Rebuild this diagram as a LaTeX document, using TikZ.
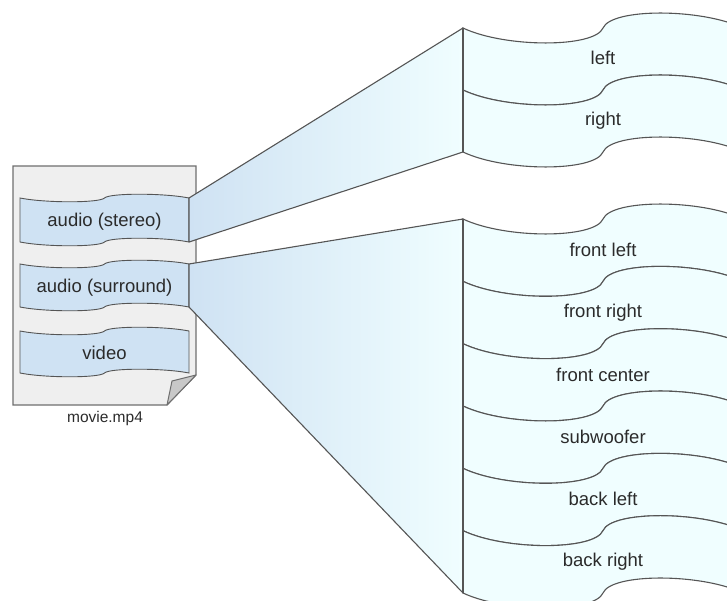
\documentclass[tikz,border=0pt]{standalone}
\usepackage{fontspec}
\setmainfont{Liberation Sans}
\definecolor{edge}{HTML}{555555}
\definecolor{paper}{HTML}{EFEFEF}
\definecolor{fold}{HTML}{C8C8C8}
\definecolor{trackblue}{HTML}{CFE2F3}
\definecolor{channel}{HTML}{F0FEFF}
\definecolor{ink}{HTML}{2B2B2B}
% punched-tape band: style, left x, top y, width, height, wave amplitude
\newcommand\tapeband[6]{%
  \path[#1] (#2,#3)
    .. controls ({#2+0.15*#4},{#3+1.33*#6}) and ({#2+0.47*#4},{#3+1.33*#6}) .. ({#2+0.5*#4},#3)
    .. controls ({#2+0.53*#4},{#3-1.33*#6}) and ({#2+0.85*#4},{#3-1.33*#6}) .. ({#2+#4},#3)
    -- ({#2+#4},{#3+#5})
    .. controls ({#2+0.85*#4},{#3+#5-1.33*#6}) and ({#2+0.53*#4},{#3+#5-1.33*#6}) .. ({#2+0.5*#4},{#3+#5})
    .. controls ({#2+0.47*#4},{#3+#5+1.33*#6}) and ({#2+0.15*#4},{#3+#5+1.33*#6}) .. (#2,{#3+#5})
    -- cycle;}
\begin{document}
\begin{tikzpicture}[x=1pt,y=-1pt,
  track/.style={fill=trackblue,draw=edge,line width=0.9pt},
  chan/.style={fill=channel,draw=edge,line width=1.1pt},
  beam/.style={left color=trackblue,right color=channel,draw=edge,line width=1.1pt,line join=round},
  lbl/.style={text=ink,font=\fontsize{18.5}{20}\selectfont,inner sep=0pt},
  filelbl/.style={text=ink,font=\fontsize{15.5}{17}\selectfont,inner sep=0pt}]
\useasboundingbox (0,0) rectangle (727,601);
\clip (0,0) rectangle (727,601);

% the container file with a dog-eared corner
\path[fill=paper,draw=edge!85,line width=1.2pt]
  (13,166) -- (196,166) -- (196,375) -- (167,405) -- (13,405) -- cycle;
\path[fill=fold,draw=edge!85,line width=1pt,line join=round]
  (196,375) -- (172,381) -- (167,405) -- cycle;
\node[filelbl] (file) at (105,418) {movie.mp4};

% tracks inside the file
\tapeband{track}{20}{198}{169}{44}{3.8}
\tapeband{track}{20}{264}{169}{43}{3.8}
\tapeband{track}{20}{331}{169}{42}{3.8}
\node[lbl] (stereo) at (104.5,222) {audio (stereo)};
\node[lbl] (surround) at (104.5,288) {audio (surround)};
\node[lbl] (video) at (104.5,353) {video};

% corners of the tracks and of the channel stacks
\coordinate (st-a) at (189,198);
\coordinate (st-b) at (189,242);
\coordinate (su-a) at (189,264);
\coordinate (su-b) at (189,307);
\coordinate (lr-a) at (463,28);
\coordinate (lr-b) at (463,152);
\coordinate (ch-a) at (463,219);
\coordinate (ch-b) at (463,593);

% projections from each audio track to its channels
\path[beam] (st-a) -- (lr-a) -- (lr-b) -- (st-b) -- cycle;
\path[beam] (su-a) -- (ch-a) -- (ch-b) -- (su-b) -- cycle;

% stereo channels
\tapeband{chan}{463}{28}{280}{62}{15}
\tapeband{chan}{463}{90}{280}{62}{15}
\node[lbl] (left) at (603,58) {left};
\node[lbl] (right) at (603,121) {right};

% surround channels
\foreach \k/\name/\txt in {0/fl/front left,1/fr/front right,2/fc/front center,
                           3/sw/subwoofer,4/bl/back left,5/br/back right}{
  \tapeband{chan}{463}{219+62.33*\k}{280}{62.33}{15}
  \node[lbl] (\name) at (603,{250+62.33*\k}) {\txt};
}
\draw[edge,line width=1.1pt] (lr-a) -- (lr-b) (ch-a) -- (ch-b);
\end{tikzpicture}
\end{document}
